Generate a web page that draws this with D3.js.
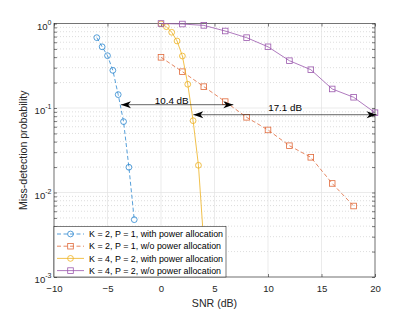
<!DOCTYPE html>
<html>
<head>
<meta charset="utf-8">
<style>
    body { margin: 0; background: #fff; }
    svg { font-family: 'Liberation Sans', Arial, sans-serif; }
    .grid-major line { stroke: #e2e2e2; stroke-width: 0.7px; }
    .grid-minor line { stroke: #cfcfcf; stroke-width: 0.7px; stroke-dasharray: 1 2; }
    .axis .domain { display: none; }
    .axis .tick line { stroke: #262626; stroke-width: 0.6px; }
    .axis .tick text { fill: #262626; font-size: 9.6px; }
    .label { fill: #262626; font-size: 10.6px; }
</style>
</head>
<body>
<svg width="415" height="312"></svg>
<script src="https://d3js.org/d3.v7.min.js"></script>
<script>
    // ---- data ----
    let seriesNames = [
        "K = 2, P = 1, with power allocation",
        "K = 2, P = 1, w/o power allocation",
        "K = 4, P = 2, with power allocation",
        "K = 4, P = 2, w/o power allocation"
    ]
    let snrBlue = [-6, -5.5, -5, -4.5, -4, -3.5, -3, -2.5]
    let pmdBlue = [0.68, 0.53, 0.416, 0.279, 0.144, 0.069, 0.0199, 0.00477]
    let snrRed = [0, 2, 4, 6, 8, 10, 12, 14, 16, 18]
    let pmdRed = [0.398, 0.269, 0.179, 0.119, 0.0776, 0.055, 0.0358, 0.0261, 0.0128, 0.00692]
    let snrYellow = [0, 0.5, 1, 1.5, 2, 2.5, 3, 3.5, 4]
    let pmdYellow = [0.99, 0.917, 0.787, 0.621, 0.412, 0.191, 0.0708, 0.021, 0.0025]
    let snrPurple = [0, 2, 4, 6, 8, 10, 12, 14, 16, 18, 20]
    let pmdPurple = [1.0, 0.986, 0.95, 0.815, 0.68, 0.53, 0.363, 0.284, 0.168, 0.134, 0.088]

    let xTicks = [-10, -5, 0, 5, 10, 15, 20]
    let yMajor = [1e-3, 1e-2, 1e-1, 1]
    let yExp = ["-3", "-2", "-1", "0"]

    // double arrows (data units) and their labels
    let arrowFrom = [-3.74, 3.02]
    let arrowTo = [6.76, 20.15]
    let arrowAt = [0.1094, 0.0833]
    let arrowText = ["10.4 dB", "17.1 dB"]
    let arrowTextX = [1.0, 11.6]
    let arrowTextY = [0.1115, 0.0934]

    // ---- setup ----
    let svg = d3.select("svg")
    let margin = { top: 23.5, right: 40, bottom: 35, left: 54 }
    let width = 415, height = 312

    let x = d3.scaleLinear().domain([-10, 20]).range([margin.left, width - margin.right])
    let y = d3.scaleLog().domain([1e-3, 1]).range([height - margin.bottom, margin.top])

    let yMinor = []
    for (let e = -3; e < 0; e++) {
        for (let m = 2; m <= 9; m++) yMinor.push(m * Math.pow(10, e))
    }

    let colors = ["#2b87cf", "#e06a3b", "#edb120", "#9b58ad"]
    let dashes = ["4,2.5", "4,2.5", null, null]
    let shapes = ["circle", "square", "circle", "square"]
    let series = [
        d3.zip(snrBlue, pmdBlue),
        d3.zip(snrRed, pmdRed),
        d3.zip(snrYellow, pmdYellow),
        d3.zip(snrPurple, pmdPurple)
    ]

    // grid
    svg.append("g").attr("class", "grid-minor")
        .selectAll("line").data(yMinor).join("line")
        .attr("x1", x(-10)).attr("x2", x(20))
        .attr("y1", d => y(d)).attr("y2", d => y(d))
    svg.append("g").attr("class", "grid-major")
        .selectAll("line").data(yMajor).join("line")
        .attr("x1", x(-10)).attr("x2", x(20))
        .attr("y1", d => y(d)).attr("y2", d => y(d))
    svg.append("g").attr("class", "grid-major")
        .selectAll("line").data(xTicks).join("line")
        .attr("x1", d => x(d)).attr("x2", d => x(d))
        .attr("y1", y(1)).attr("y2", y(1e-3))

    // axes (ticks inside, mirrored)
    svg.append("g").attr("class", "axis")
        .attr("transform", `translate(0,${y(1e-3)})`)
        .call(d3.axisBottom(x).tickValues(xTicks).tickSizeInner(-3).tickSizeOuter(0).tickPadding(8))
    svg.append("g").attr("class", "axis")
        .attr("transform", `translate(0,${y(1)})`)
        .call(d3.axisTop(x).tickValues(xTicks).tickSizeInner(-3).tickSizeOuter(0).tickFormat(""))
    let yAxisG = svg.append("g").attr("class", "axis")
        .attr("transform", `translate(${x(-10)},0)`)
        .call(d3.axisLeft(y).tickValues(yMajor.concat(yMinor)).tickSizeInner(-3).tickSizeOuter(0)
            .tickPadding(2.5).tickFormat(""))
    svg.append("g").attr("class", "axis")
        .attr("transform", `translate(${x(20)},0)`)
        .call(d3.axisRight(y).tickValues(yMajor.concat(yMinor)).tickSizeInner(-3).tickSizeOuter(0).tickFormat(""))

    // power-of-ten labels
    yAxisG.selectAll(".tick").filter(d => yMajor.includes(d)).select("text")
        .attr("dy", null)
        .attr("y", 5.5)
        .each(function (d) {
            let t = d3.select(this)
            let i = yMajor.indexOf(d)
            t.append("tspan").text("10")
            t.append("tspan").text(yExp[i]).attr("dy", -5).style("font-size", "7px")
        })

    // box
    svg.append("rect")
        .attr("x", x(-10)).attr("y", y(1))
        .attr("width", x(20) - x(-10)).attr("height", y(1e-3) - y(1))
        .style("fill", "none").style("stroke", "#262626").style("stroke-width", 0.6)

    // clip
    svg.append("clipPath").attr("id", "plotclip").append("rect")
        .attr("x", x(-10)).attr("y", y(1) - 4)
        .attr("width", x(20) - x(-10) + 4).attr("height", y(1e-3) - y(1) + 4)

    let line = d3.line().x(d => x(d[0])).y(d => y(d[1]))

    function drawMarker(g, shape, cx, cy, color) {
        if (shape == "circle") {
            g.append("circle").attr("cx", cx).attr("cy", cy).attr("r", 2.9)
                .style("fill", "none").style("stroke", color).style("stroke-width", 0.8)
        } else {
            g.append("rect").attr("x", cx - 2.8).attr("y", cy - 2.8).attr("width", 5.6).attr("height", 5.6)
                .style("fill", "none").style("stroke", color).style("stroke-width", 0.8)
        }
    }

    let plot = svg.append("g").attr("clip-path", "url(#plotclip)")
    series.forEach(function (data, i) {
        plot.append("path")
            .attr("d", line(data))
            .style("fill", "none")
            .style("stroke", colors[i])
            .style("stroke-width", 0.8)
            .style("stroke-dasharray", dashes[i])
        let mg = plot.append("g")
        data.forEach(d => drawMarker(mg, shapes[i], x(d[0]), y(d[1]), colors[i]))
    })

    // arrows
    function arrowHead(g, tx, ty, dir) {
        let L = 10, W = 7
        g.append("path")
            .attr("d", `M${tx},${ty} L${tx - dir * L},${ty - W / 2} L${tx - dir * L * 0.72},${ty} L${tx - dir * L},${ty + W / 2} Z`)
            .style("fill", "#000")
    }
    let ag = svg.append("g")
    arrowFrom.forEach(function (a, i) {
        ag.append("line")
            .attr("x1", x(a)).attr("x2", x(arrowTo[i]))
            .attr("y1", y(arrowAt[i])).attr("y2", y(arrowAt[i]))
            .style("stroke", "#222").style("stroke-width", 0.7)
        arrowHead(ag, x(a), y(arrowAt[i]), -1)
        arrowHead(ag, x(arrowTo[i]), y(arrowAt[i]), 1)
        ag.append("text")
            .attr("x", x(arrowTextX[i])).attr("y", y(arrowTextY[i]))
            .attr("text-anchor", "middle")
            .style("font-size", "9.8px").style("fill", "#000")
            .text(arrowText[i])
    })

    // legend
    let lg = svg.append("g")
    lg.append("rect")
        .attr("x", x(-10)).attr("y", 226.5)
        .attr("width", 172).attr("height", y(1e-3) - 226.5)
        .style("fill", "#fff").style("stroke", "#262626").style("stroke-width", 0.6)
    seriesNames.forEach(function (name, i) {
        let ly = 234 + i * 12.2
        lg.append("line")
            .attr("x1", x(-10) + 3).attr("x2", x(-10) + 30)
            .attr("y1", ly).attr("y2", ly)
            .style("stroke", colors[i]).style("stroke-width", 0.8)
            .style("stroke-dasharray", dashes[i])
        drawMarker(lg, shapes[i], x(-10) + 16.5, ly, colors[i])
        lg.append("text")
            .attr("x", x(-10) + 35).attr("y", ly).attr("dy", "0.35em")
            .style("font-size", "8.9px").style("fill", "#000")
            .text(name)
    })

    // axis labels
    svg.append("text").attr("class", "label")
        .attr("x", x(5)).attr("y", 306.5)
        .attr("text-anchor", "middle")
        .text("SNR (dB)")
    svg.append("text").attr("class", "label")
        .attr("transform", `translate(26.5,${(y(1) + y(1e-3)) / 2}) rotate(-90)`)
        .attr("text-anchor", "middle")
        .text("Miss-detection probability")
</script>
</body>
</html>
